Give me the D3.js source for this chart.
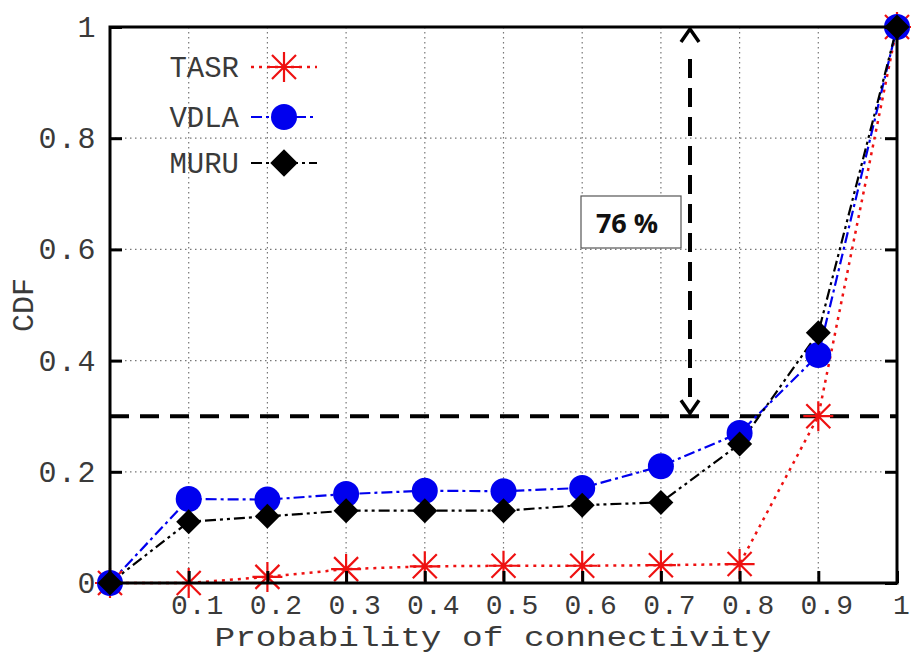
<!DOCTYPE html>
<html><head><meta charset="utf-8">
<script src="https://cdn.jsdelivr.net/npm/d3@7"></script>
<style>body{margin:0;background:#fff}svg{display:block}</style>
</head><body>
<svg id="c" width="911" height="655"></svg>
<script>
const xValues = [0, 0.1, 0.2, 0.3, 0.4, 0.5, 0.6, 0.7, 0.8, 0.9, 1];
const tasr = [0, 0, 0.011, 0.025, 0.03, 0.031, 0.031, 0.032, 0.034, 0.3, 1];
const vdla = [0, 0.151, 0.15, 0.16, 0.166, 0.165, 0.171, 0.21, 0.27, 0.41, 1];
const muru = [0, 0.11, 0.12, 0.13, 0.13, 0.13, 0.14, 0.145, 0.25, 0.45, 1];
const seriesNames = ["TASR", "VDLA", "MURU"];
const xTicks = [0.1, 0.2, 0.3, 0.4, 0.5, 0.6, 0.7, 0.8, 0.9, 1];
const xTickLabels = ["0.1","0.2","0.3","0.4","0.5","0.6","0.7","0.8","0.9","1"];
const yTicks = [0, 0.2, 0.4, 0.6, 0.8, 1];
const yTickLabels = ["0","0.2","0.4","0.6","0.8","1"];
const refLevel = [0.3];
const annotationText = ["76 %"];
const xTitle = "Probability of connectivity";
const yTitle = "CDF";

const svg = d3.select("#c");
const L = 110, R = 897, T = 27, B = 583;
const x = d3.scaleLinear().domain([0, 1]).range([L, R]);
const y = d3.scaleLinear().domain([0, 1]).range([B, T]);
const mono = "'Liberation Mono','Courier New',monospace";
const txtCol = "#3a3a3a";

// grid
const g = svg.append("g");
g.selectAll(".vg").data(xTicks.slice(0, -1)).join("line")
  .attr("x1", d => x(d)).attr("x2", d => x(d)).attr("y1", T).attr("y2", B)
  .attr("stroke", "#777").attr("stroke-width", 1.2).attr("stroke-dasharray", "1.5,3.5");
g.selectAll(".hg").data(yTicks.slice(1, -1)).join("line")
  .attr("x1", L).attr("x2", R).attr("y1", d => y(d)).attr("y2", d => y(d))
  .attr("stroke", "#777").attr("stroke-width", 1.2).attr("stroke-dasharray", "1.5,3.5");

// reference dashed line
svg.selectAll(".ref").data(refLevel).join("line")
  .attr("x1", L).attr("x2", R).attr("y1", d => y(d)).attr("y2", d => y(d))
  .attr("stroke", "#000").attr("stroke-width", 4).attr("stroke-dasharray", "19,11");

// vertical double arrow
const ax = 690, aTop = y(1) + 2, aBot = y(refLevel[0]) - 3;
svg.append("line").attr("x1", ax).attr("x2", ax).attr("y1", aTop + 30).attr("y2", aBot - 12)
  .attr("stroke", "#000").attr("stroke-width", 4).attr("stroke-dasharray", "19,10");
svg.append("path").attr("d", `M${ax-9},${aTop+13}L${ax},${aTop}L${ax+9},${aTop+13}`)
  .attr("fill", "none").attr("stroke", "#000").attr("stroke-width", 3.5);
svg.append("path").attr("d", `M${ax-9},${aBot-13}L${ax},${aBot}L${ax+9},${aBot-13}`)
  .attr("fill", "none").attr("stroke", "#000").attr("stroke-width", 3.5);

// annotation box
svg.append("rect").attr("x", 581).attr("y", 196).attr("width", 100).attr("height", 52)
  .attr("fill", "#fff").attr("stroke", "#555").attr("stroke-width", 1.2);
svg.append("text").attr("x", 627).attr("y", 233).attr("text-anchor", "middle")
  .attr("font-family", "'Open Sans', Lato, sans-serif").attr("font-weight", "bold")
  .attr("font-size", 27).attr("fill", "#111").text(annotationText[0]);

// series
const seriesData = [tasr, vdla, muru];
const styles = [
  {color: "#ee1111", dash: "3,5", width: 2.5, marker: "star"},
  {color: "#0000ee", dash: "11,4,3,4", width: 2.2, marker: "circle"},
  {color: "#000000", dash: "11,4,3,4,3,4", width: 2.2, marker: "diamond"}
];
const line = d3.line().x((d, i) => x(xValues[i])).y(d => y(d));
seriesData.forEach((s, k) => {
  svg.append("path").datum(s).attr("d", line).attr("fill", "none")
    .attr("stroke", styles[k].color).attr("stroke-width", styles[k].width)
    .attr("stroke-dasharray", styles[k].dash);
});
function drawMarker(sel, type, color, cx, cy, sc) {
  sc = sc || 1;
  if (type === "star") {
    const r = 15 * sc, d = 12 * sc;
    const p = `M${cx},${cy-r}L${cx},${cy+r}M${cx-r},${cy}L${cx+r},${cy}M${cx-d},${cy-d}L${cx+d},${cy+d}M${cx-d},${cy+d}L${cx+d},${cy-d}`;
    sel.append("path").attr("d", p).attr("stroke", color).attr("stroke-width", 2.2).attr("fill", "none");
  } else if (type === "circle") {
    sel.append("circle").attr("cx", cx).attr("cy", cy).attr("r", 13 * sc).attr("fill", color);
  } else {
    const r = 12.5 * sc;
    sel.append("path").attr("d", `M${cx},${cy-r}L${cx+r},${cy}L${cx},${cy+r}L${cx-r},${cy}Z`).attr("fill", color);
  }
}
seriesData.forEach((s, k) => {
  const gm = svg.append("g");
  s.forEach((v, i) => drawMarker(gm, styles[k].marker, styles[k].color, x(xValues[i]), y(v)));
});

// frame
svg.append("rect").attr("x", L).attr("y", T).attr("width", R - L).attr("height", B - T)
  .attr("fill", "none").attr("stroke", "#000").attr("stroke-width", 3);

// ticks (inward) via axes
const yAxisL = d3.axisRight(y).tickValues(yTicks).tickSize(12).tickFormat("");
const yAxisR = d3.axisLeft(y).tickValues(yTicks).tickSize(12).tickFormat("");
const xAxisB = d3.axisTop(x).tickValues(xTicks).tickSize(12).tickFormat("");
[svg.append("g").attr("transform", `translate(${L},0)`).call(yAxisL),
 svg.append("g").attr("transform", `translate(${R},0)`).call(yAxisR),
 svg.append("g").attr("transform", `translate(0,${B})`).call(xAxisB)].forEach(a => {
  a.select(".domain").remove();
  a.selectAll("line").attr("stroke", "#000").attr("stroke-width", 3);
});

// tick labels
svg.selectAll(".yl").data(yTicks).join("text")
  .attr("x", 97).attr("y", d => y(d) + 10).attr("text-anchor", "end")
  .attr("font-family", mono).attr("font-size", 30).attr("letter-spacing", 1.5).attr("fill", txtCol)
  .text((d, i) => yTickLabels[i]);
svg.selectAll(".xl").data(xTicks).join("text")
  .attr("x", (d, i) => Math.min(x(d) + 9, 902)).attr("y", 614).attr("text-anchor", "middle")
  .attr("font-family", mono).attr("font-size", 28).attr("letter-spacing", 1).attr("fill", txtCol)
  .text((d, i) => xTickLabels[i]);

// titles
svg.append("text").attr("x", 493).attr("y", 646).attr("text-anchor", "middle")
  .attr("font-family", mono).attr("font-size", 27).attr("fill", txtCol)
  .attr("textLength", 557).attr("lengthAdjust", "spacingAndGlyphs").text(xTitle);
svg.append("text").attr("transform", "translate(33,305) rotate(-90)").attr("text-anchor", "middle")
  .attr("font-family", mono).attr("font-size", 30).attr("fill", txtCol).text(yTitle);

// legend
const legY = [67, 117, 163];
seriesNames.forEach((n, k) => {
  svg.append("text").attr("x", 239).attr("y", legY[k] + 10).attr("text-anchor", "end")
    .attr("font-family", mono).attr("font-size", 29).attr("fill", txtCol).text(n);
  svg.append("line").attr("x1", 251).attr("x2", 317).attr("y1", legY[k]).attr("y2", legY[k])
    .attr("stroke", styles[k].color).attr("stroke-width", styles[k].width)
    .attr("stroke-dasharray", styles[k].dash);
  const gm = svg.append("g");
  drawMarker(gm, styles[k].marker, styles[k].color, 284, legY[k], k === 2 ? 1.1 : 1);
});
</script>
</body></html>
